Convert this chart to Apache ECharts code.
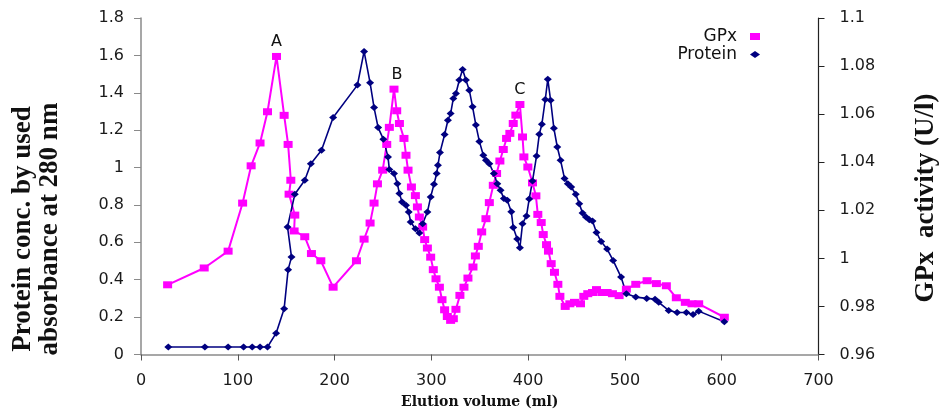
<!DOCTYPE html>
<html>
<head>
<meta charset="utf-8">
<script src="https://cdn.jsdelivr.net/npm/echarts@6/dist/echarts.min.js"></script>
<style>
  html, body { margin: 0; padding: 0; background: #ffffff; }
  #chart { width: 941px; height: 412px; }
</style>
</head>
<body>
<div id="chart"></div>
<script>
// Elution profile: GPx activity (U/l, right axis) and protein (A280, left axis)
const gpxVolume = [
  27.5, 65.3, 90, 105, 113.8, 123, 130.7, 140, 147.9, 152, 154.8, 153, 158.9, 158.2,
  169.2, 176.1, 185.8, 198.5, 222.6, 230.5, 236.7, 240.8, 244.3, 249.7, 253.9, 256.6,
  261.4, 264.2, 267, 271.7, 273.8, 275.9, 279.4, 283.5, 285.6, 287.6, 291, 293.1,
  295.9, 299.3, 302, 304.8, 308.3, 311, 313.7, 316.5, 319.9, 322.7, 325.4, 329.5,
  333.7, 337.8, 343, 345.5, 348.5, 352, 356.4, 359.9, 364, 367.4, 370.8, 374.3,
  377.7, 381.1, 384.6, 387.3, 391.5, 394.2, 395.6, 399.7, 404.5, 408, 410, 413.5,
  415.6, 419, 421, 423.8, 427.2, 430.7, 432.8, 438.3, 443.1, 447.9, 454.1, 457.5,
  461.6, 466.5, 470.6, 476.1, 481.6, 487.1, 494, 501.5, 511.2, 522.9, 532.5, 542.8,
  553.1, 562.4, 569.3, 576.2, 602.7
];
const gpxActivity = [
  0.989, 0.996, 1.003, 1.023, 1.0385, 1.048, 1.061, 1.084, 1.0595, 1.0474, 1.0325, 1.0267, 1.018, 1.0114,
  1.009, 1.002, 0.999, 0.988, 0.999, 1.008, 1.0147, 1.023, 1.031, 1.0367, 1.0474, 1.0545,
  1.0704, 1.0614, 1.0561, 1.0499, 1.0429, 1.0367, 1.0297, 1.0261, 1.0214, 1.0172, 1.013, 1.0078,
  1.0043, 1.0005, 0.9953, 0.9915, 0.988, 0.9828, 0.9786, 0.9758, 0.9742, 0.9749, 0.9788, 0.9846,
  0.988, 0.9918, 0.9964, 1.001, 1.005, 1.011, 1.0165, 1.0232, 1.0304, 1.0353, 1.0405, 1.0453,
  1.0499, 1.052, 1.0561, 1.0596, 1.064, 1.0505, 1.0422, 1.038, 1.0314, 1.026, 1.0183, 1.0149,
  1.0099, 1.0057, 1.003, 0.9978, 0.9942, 0.9892, 0.9842, 0.98, 0.9811, 0.9817, 0.9811, 0.9842,
  0.9853, 0.9858, 0.987, 0.9858, 0.9858, 0.9853, 0.9845, 0.9872, 0.9892, 0.9907, 0.9895, 0.9886,
  0.9836, 0.9817, 0.9811, 0.9811, 0.9755
];
const proteinVolume = [
  28.2, 66, 90, 106, 114.9, 123, 130.7, 139.6, 147.9, 152, 155.5, 151.4, 158.9, 169.2,
  175.5, 186.5, 198.5, 223.6, 230.5, 236.7, 240.8, 245, 250.4, 255.2, 256.6, 261.4,
  264.9, 267, 269.7, 273.8, 276.6, 278.6, 283.5, 287.6, 291, 295.9, 299.3, 302.7,
  305.5, 306.8, 308.9, 313.7, 317.1, 319.9, 322.7, 325.4, 328.9, 332.3, 335.7, 339.2,
  342.6, 346, 349.6, 353.7, 356.4, 359.9, 364.6, 368.1, 371.5, 374.9, 378.4, 382.6,
  384.6, 388.7, 391.5, 394.2, 398.3, 401.1, 404.5, 408.7, 411.5, 414.2, 417.7, 420.3,
  423.2, 426.6, 430.1, 433.5, 437.6, 441, 444.5, 449.2, 452.8, 456.2, 459.7, 463.2,
  466.5, 470.6, 475.4, 481.6, 487.8, 496, 501.5, 511.2, 522.5, 531.1, 534.9, 545.2,
  553.9, 563.5, 570.4, 576.2, 602.7
];
const proteinConc = [
  0.04, 0.04, 0.04, 0.04, 0.04, 0.04, 0.04, 0.114, 0.245, 0.454, 0.521, 0.682, 0.857, 0.932,
  1.02, 1.093, 1.268, 1.441, 1.621, 1.453, 1.321, 1.214, 1.152, 1.057, 0.989, 0.968,
  0.914, 0.861, 0.816, 0.798, 0.762, 0.709, 0.673, 0.65, 0.7, 0.762, 0.843, 0.911,
  0.968, 1.012, 1.08, 1.177, 1.253, 1.289, 1.37, 1.396, 1.468, 1.525, 1.468, 1.414,
  1.325, 1.227, 1.14, 1.066, 1.039, 1.021, 0.968, 0.914, 0.878, 0.834, 0.825, 0.764,
  0.679, 0.618, 0.571, 0.7, 0.741, 0.832, 0.928, 1.062, 1.178, 1.232, 1.364, 1.473,
  1.36, 1.21, 1.11, 1.039, 0.941, 0.914, 0.896, 0.857, 0.807, 0.757, 0.735, 0.721,
  0.714, 0.653, 0.604, 0.564, 0.503, 0.414, 0.325, 0.307, 0.3, 0.296, 0.279, 0.236,
  0.225, 0.225, 0.214, 0.232, 0.175
];
// Activity peaks named on the chart
const peakNames = ['A', 'B', 'C'];
const peakVolumes = [140, 261.4, 391.5];

const xTicks = { min: 0, max: 700, step: 100 };
const leftTicks = { min: 0, max: 1.8, step: 0.2 };
const rightTicks = { min: 0.96, max: 1.1, step: 0.02 };

const sansFont = '"DejaVu Sans", "Liberation Sans", Arial, sans-serif';
const serifFont = '"Liberation Serif", "Times New Roman", serif';

const gpxData = gpxVolume.map(function (v, i) {
  const k = peakVolumes.indexOf(v);
  if (k < 0) return [v, gpxActivity[i]];
  return {
    value: [v, gpxActivity[i]],
    label: {
      show: true, position: 'top', distance: 3, formatter: peakNames[k],
      color: '#111', fontSize: 16, fontFamily: sansFont,
      offset: [k === 1 ? 3 : 0, 0]
    }
  };
});
const proteinData = proteinVolume.map(function (v, i) { return [v, proteinConc[i]]; });

const chart = echarts.init(document.getElementById('chart'), null, { renderer: 'canvas' });
chart.setOption({
  animation: false,
  backgroundColor: '#ffffff',
  grid: {
    left: 141, right: 122.5, top: 18, bottom: 57.5,
    containLabel: false, outerBoundsMode: 'none'
  },
  legend: {
    orient: 'vertical', right: 176, top: 23, align: 'right',
    itemWidth: 10, itemHeight: 7, itemGap: 1,
    textStyle: { fontSize: 17, fontFamily: sansFont, color: '#111', padding: [0, 8, 0, 0] },
    data: [
      { name: 'GPx', icon: 'rect' },
      { name: 'Protein', icon: 'diamond' }
    ]
  },
  xAxis: {
    type: 'value', min: xTicks.min, max: xTicks.max, interval: xTicks.step,
    name: 'Elution volume (ml)', nameLocation: 'middle', nameGap: 41,
    nameTextStyle: { fontFamily: '"DejaVu Serif", serif', fontWeight: 'bold', fontSize: 14, color: '#111' },
    axisLine: { onZero: false, lineStyle: { color: '#8a8a8a', width: 1.5 } },
    axisTick: { show: true, length: 6, lineStyle: { color: '#555' } },
    axisLabel: { fontSize: 16, fontFamily: sansFont, color: '#1a1a1a', margin: 18 },
    splitLine: { show: false }
  },
  yAxis: [
    {
      type: 'value', position: 'left',
      min: leftTicks.min, max: leftTicks.max, interval: leftTicks.step,
      axisLine: { show: true, lineStyle: { color: '#8a8a8a', width: 1.5 } },
      axisTick: { show: true, length: 7, lineStyle: { color: '#8a8a8a' } },
      axisLabel: { fontSize: 16, fontFamily: sansFont, color: '#1a1a1a', margin: 17 },
      splitLine: { show: false }
    },
    {
      type: 'value', position: 'right',
      min: rightTicks.min, max: rightTicks.max, interval: rightTicks.step,
      axisLine: { show: true, lineStyle: { color: '#222', width: 1.2 } },
      axisTick: { show: true, length: 6, lineStyle: { color: '#222' } },
      axisLabel: {
        fontSize: 16, fontFamily: sansFont, color: '#1a1a1a', margin: 21,
        formatter: function (v) { return String(Math.round(v * 100) / 100); }
      },
      splitLine: { show: false }
    }
  ],
  graphic: [
    {
      type: 'text', x: 37, y: 229, rotation: Math.PI / 2,
      style: {
        text: 'Protein conc. by used\nabsorbance at 280 nm',
        font: 'bold 27px ' + serifFont, fill: '#111',
        align: 'center', verticalAlign: 'middle', lineHeight: 27
      }
    },
    {
      type: 'text', x: 926, y: 198, rotation: Math.PI / 2,
      style: {
        text: 'GPx  activity (U/l)',
        font: 'bold 27px ' + serifFont, fill: '#111',
        align: 'center', verticalAlign: 'middle'
      }
    }
  ],
  series: [
    {
      name: 'GPx', type: 'line', yAxisIndex: 1, data: gpxData,
      symbol: 'rect', symbolSize: [9, 7], showAllSymbol: true,
      lineStyle: { color: '#ff00ff', width: 2 },
      itemStyle: { color: '#ff00ff' },
      emphasis: { disabled: true }
    },
    {
      name: 'Protein', type: 'line', yAxisIndex: 0, data: proteinData,
      symbol: 'diamond', symbolSize: [8, 7], showAllSymbol: true,
      lineStyle: { color: '#000080', width: 1.6 },
      itemStyle: { color: '#000080' },
      emphasis: { disabled: true }
    }
  ]
});
</script>
</body>
</html>
